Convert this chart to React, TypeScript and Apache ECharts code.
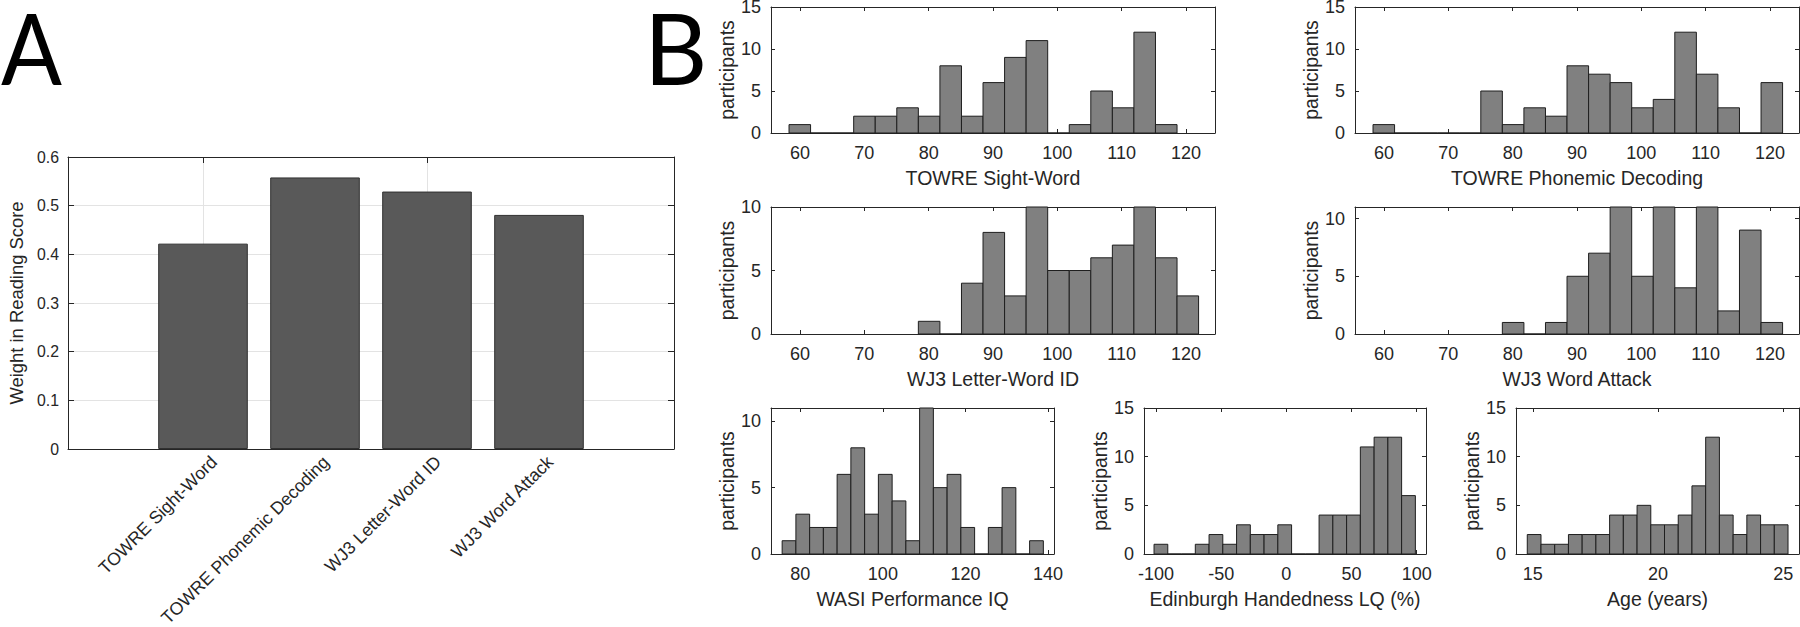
import React, { useEffect, useRef } from 'react';
import * as echarts from 'echarts';

const FONT = '"Liberation Sans", Arial, Helvetica, sans-serif';
const INK = '#262626';
const GRIDLINE = '#e3e3e3';

// ---------- Panel A data ----------
const readingCategories = ['TOWRE Sight-Word', 'TOWRE Phonemic Decoding', 'WJ3 Letter-Word ID', 'WJ3 Word Attack'];
const readingWeights = [0.422, 0.558, 0.529, 0.481];
const weightTickLabels = ['0', '0.1', '0.2', '0.3', '0.4', '0.5', '0.6'];

// ---------- Panel B data ----------
const histTitles = [
  'TOWRE Sight-Word',
  'TOWRE Phonemic Decoding',
  'WJ3 Letter-Word ID',
  'WJ3 Word Attack',
  'WASI Performance IQ',
  'Edinburgh Handedness LQ (%)',
  'Age (years)',
];
const towreSightWordCounts = [1, 0, 0, 2, 2, 3, 2, 8, 2, 6, 9, 11, 0, 1, 5, 3, 12, 1];
const towrePhonemicCounts = [1, 0, 0, 0, 0, 5, 1, 3, 2, 8, 7, 6, 3, 4, 12, 7, 3, 0, 6];
const wj3LetterWordCounts = [1, 0, 4, 8, 3, 10, 5, 5, 6, 7, 10, 6, 3];
const wj3WordAttackCounts = [1, 0, 1, 5, 7, 11, 5, 11, 4, 11, 2, 9, 1];
const wasiPiqCounts = [1, 3, 2, 2, 6, 8, 3, 6, 4, 1, 11, 5, 6, 2, 0, 2, 5, 0, 1];
const handednessCounts = [1, 0, 0, 1, 2, 1, 3, 2, 2, 3, 0, 0, 4, 4, 4, 11, 12, 12, 6];
const ageCounts = [2, 1, 1, 2, 2, 2, 4, 4, 5, 3, 3, 4, 7, 12, 4, 2, 4, 3, 3];
const histCounts = [
  towreSightWordCounts,
  towrePhonemicCounts,
  wj3LetterWordCounts,
  wj3WordAttackCounts,
  wasiPiqCounts,
  handednessCounts,
  ageCounts,
];
const binStarts = [58.3, 58.3, 78.4, 78.4, 75.6, -101.5, 14.78];
const binWidths = [3.35, 3.35, 3.35, 3.35, 3.33, 10.55, 0.548];
const xMins = [55.5, 55.5, 55.5, 55.5, 72.9, -109.2, 14.33];
const xMaxs = [124.5, 124.5, 124.5, 124.5, 141.45, 107.1, 25.63];
const xTickSteps = [10, 10, 10, 10, 20, 50, 5];
const yMaxs = [15, 15, 10, 11, 11, 15, 15];
const yTickStep = 5;

// layout (px) of each histogram box
const histBoxes = [
  { l: 771, t: 7, w: 444, h: 126 },
  { l: 1355, t: 7, w: 444, h: 126 },
  { l: 771, t: 207, w: 444, h: 127 },
  { l: 1355, t: 207, w: 444, h: 127 },
  { l: 771, t: 408, w: 283, h: 146 },
  { l: 1144, t: 408, w: 282, h: 146 },
  { l: 1516, t: 408, w: 283, h: 146 },
];

const onStep = (v: number, step: number) => Math.abs(v / step - Math.round(v / step)) < 1e-6;

function buildOption() {
  const grids: any[] = [];
  const xAxes: any[] = [];
  const yAxes: any[] = [];
  const series: any[] = [];

  const line = { show: true, onZero: false, lineStyle: { color: INK, width: 1 } };
  const noLine = { show: false, onZero: false };
  const tickIn = (len: number, color = INK) => ({ show: true, inside: true, length: len, lineStyle: { color, width: 1 } });
  const gridBase = { containLabel: false, outerBoundsMode: 'none' };

  // ----- Panel A frame (grid 0) -----
  const aLeft = 68, aTop = 157, aW = 606, aH = 292;
  grids.push({ ...gridBase, left: aLeft, top: aTop, width: aW, height: aH });
  xAxes.push({ gridIndex: 0, type: 'value', min: 0, max: 1, position: 'bottom', axisLine: line, axisTick: { show: false }, axisLabel: { show: false }, splitLine: { show: false } });
  xAxes.push({ gridIndex: 0, type: 'value', min: 0, max: 1, position: 'top', axisLine: line, axisTick: { show: false }, axisLabel: { show: false }, splitLine: { show: false } });
  yAxes.push({
    gridIndex: 0, type: 'value', min: 0, max: 0.6, interval: 0.1, position: 'left',
    axisLine: line, axisTick: tickIn(6),
    axisLabel: { margin: 9, fontSize: 15.8, color: INK, fontFamily: FONT, formatter: (v: number) => weightTickLabels[Math.round(v * 10)] ?? '' },
    splitLine: { show: true, lineStyle: { color: GRIDLINE, width: 1 } },
    name: 'Weight in Reading Score', nameLocation: 'middle', nameGap: 43,
    nameTextStyle: { fontSize: 18.4, color: INK, fontFamily: FONT },
  });
  yAxes.push({ gridIndex: 0, type: 'value', min: 0, max: 0.6, interval: 0.1, position: 'right', axisLine: line, axisTick: tickIn(6), axisLabel: { show: false }, splitLine: { show: false } });

  // ----- Panel A vertical grid lines (grid 1) -----
  const bLeft = 147, bW = 448;
  grids.push({ ...gridBase, left: bLeft, top: aTop, width: bW, height: aH });
  xAxes.push({ gridIndex: 1, type: 'category', data: readingCategories, position: 'top', axisLine: noLine, axisTick: { ...tickIn(aH, GRIDLINE), alignWithLabel: true }, axisLabel: { show: false }, splitLine: { show: false } });
  yAxes.push({ gridIndex: 1, type: 'value', min: 0, max: 0.6, show: false });

  // ----- Panel A bars (grid 2) -----
  grids.push({ ...gridBase, left: bLeft, top: aTop, width: bW, height: aH });
  const barX = xAxes.length;
  xAxes.push({ gridIndex: 2, type: 'category', data: readingCategories, position: 'bottom', axisLine: noLine, axisTick: { ...tickIn(6), alignWithLabel: true }, axisLabel: { show: false }, splitLine: { show: false } });
  xAxes.push({ gridIndex: 2, type: 'category', data: readingCategories, position: 'top', axisLine: noLine, axisTick: { ...tickIn(6), alignWithLabel: true }, axisLabel: { show: false }, splitLine: { show: false } });
  const barY = yAxes.length;
  yAxes.push({ gridIndex: 2, type: 'value', min: 0, max: 0.6, show: false });
  series.push({
    type: 'bar', xAxisIndex: barX, yAxisIndex: barY, data: readingWeights, barWidth: '80%',
    itemStyle: { color: '#595959', borderColor: '#303030', borderWidth: 1 }, silent: true, z: 3,
  });

  // ----- Panel A rotated category labels (grid 3, nudged right like MATLAB) -----
  grids.push({ ...gridBase, left: bLeft + 11, top: aTop, width: bW, height: aH });
  xAxes.push({
    gridIndex: 3, type: 'category', data: readingCategories, position: 'bottom',
    axisLine: noLine, axisTick: { show: false },
    axisLabel: { rotate: 45, interval: 0, margin: 10, fontSize: 17.7, color: INK, fontFamily: FONT },
    splitLine: { show: false },
  });
  yAxes.push({ gridIndex: 3, type: 'value', min: 0, max: 0.6, show: false });

  // ----- Panel B histograms -----
  histTitles.forEach((title, i) => {
    const g = grids.length;
    const b = histBoxes[i];
    grids.push({ ...gridBase, left: b.l, top: b.t, width: b.w, height: b.h });
    const step = xTickSteps[i];
    const xCommon = {
      gridIndex: g, type: 'value', min: xMins[i], max: xMaxs[i], minInterval: step, maxInterval: step,
      axisLine: line, axisTick: tickIn(4), splitLine: { show: false },
    };
    const xi = xAxes.length;
    xAxes.push({
      ...xCommon, position: 'bottom',
      axisLabel: { margin: 11, fontSize: 18, color: INK, fontFamily: FONT, formatter: (v: number) => (onStep(v, step) ? String(Math.round(v)) : '') },
      name: title, nameLocation: 'middle', nameGap: 35,
      nameTextStyle: { fontSize: 19.5, color: INK, fontFamily: FONT },
    });
    xAxes.push({ ...xCommon, position: 'top', axisLabel: { show: false } });
    const yCommon = {
      gridIndex: g, type: 'value', min: 0, max: yMaxs[i], interval: yTickStep,
      axisLine: line, axisTick: tickIn(4), splitLine: { show: false },
    };
    const yi = yAxes.length;
    yAxes.push({
      ...yCommon, position: 'left',
      axisLabel: { margin: 10, fontSize: 18, lineHeight: 14, color: INK, fontFamily: FONT, formatter: (v: number) => (onStep(v, yTickStep) ? String(Math.round(v)) : '') },
      name: 'participants', nameLocation: 'middle', nameGap: 33,
      nameTextStyle: { fontSize: 19.5, color: INK, fontFamily: FONT },
    });
    yAxes.push({ ...yCommon, position: 'right', axisLabel: { show: false } });

    const start = binStarts[i];
    const w = binWidths[i];
    const bins = histCounts[i].map((c, k) => [start + k * w, start + (k + 1) * w, c]);
    series.push({
      type: 'custom', xAxisIndex: xi, yAxisIndex: yi, data: bins, silent: true, z: 3, clip: false,
      encode: { x: [0, 1], y: 2 },
      renderItem: (_p: any, api: any) => {
        const p0 = api.coord([api.value(0), api.value(2)]);
        const p1 = api.coord([api.value(1), 0]);
        return {
          type: 'rect',
          shape: { x: p0[0], y: p0[1], width: p1[0] - p0[0], height: p1[1] - p0[1] },
          style: { fill: '#808080', stroke: '#1e1e1e', lineWidth: 1 },
        };
      },
    });
  });

  return {
    animation: false,
    backgroundColor: '#ffffff',
    textStyle: { fontFamily: FONT },
    grid: grids,
    xAxis: xAxes,
    yAxis: yAxes,
    series,
    graphic: [
      { type: 'text', x: 1, y: 47, scaleX: 0.92, silent: true, style: { text: 'A', font: '98px Lato', lineHeight: 88, fill: '#000', textAlign: 'left', textVerticalAlign: 'middle', verticalAlign: 'middle' } },
      { type: 'text', x: 644, y: 47, silent: true, style: { text: 'B', font: '98px Lato', lineHeight: 88, fill: '#000', textAlign: 'left', textVerticalAlign: 'middle', verticalAlign: 'middle' } },
    ],
  };
}

export default function App() {
  const ref = useRef<HTMLDivElement>(null);
  useEffect(() => {
    if (!ref.current) return;
    const chart = echarts.init(ref.current, null, { renderer: 'svg' });
    chart.setOption(buildOption() as any);
    return () => chart.dispose();
  }, []);
  return (
    <div
      ref={ref}
      style={{ position: 'fixed', left: 0, top: 0, width: 1800, height: 627, background: '#fff' }}
    />
  );
}
